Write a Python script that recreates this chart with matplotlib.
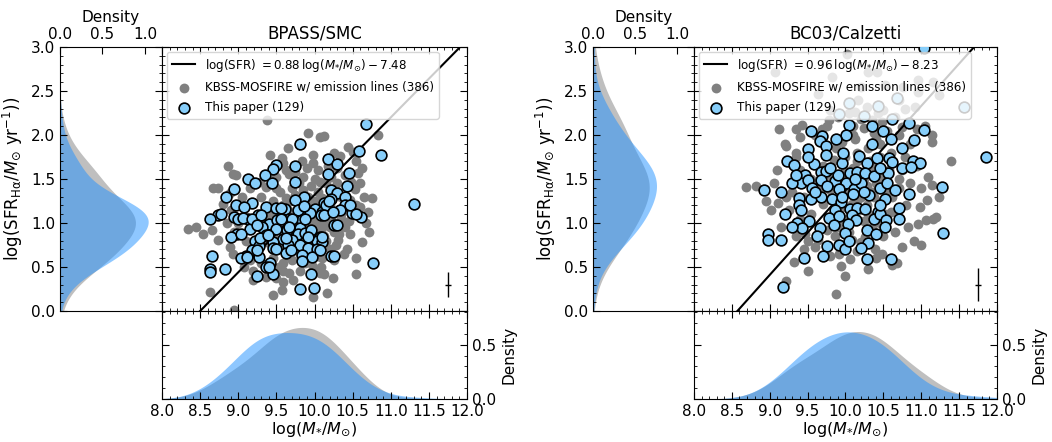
import numpy as np
import seaborn as sns
from matplotlib import pyplot as plt
from matplotlib.ticker import MultipleLocator

# (log M*, log SFR_Ha) pairs per SED model
# BPASS/SMC: this paper
bpass_ours = np.array([
    (10.67, 2.13), (9.81, 1.90), (10.58, 1.82), (10.87, 1.77), (10.18, 1.73), (10.29, 1.67),
    (9.50, 1.66), (9.74, 1.65), (9.46, 1.61), (10.18, 1.56), (10.45, 1.57), (9.35, 1.55),
    (9.13, 1.50), (9.22, 1.45), (9.44, 1.45), (9.75, 1.47), (8.95, 1.39), (10.42, 1.42),
    (10.21, 1.37), (8.84, 1.30), (10.29, 1.34), (10.40, 1.29), (9.86, 1.30), (9.74, 1.26),
    (10.13, 1.23), (11.30, 1.22), (9.18, 1.23), (8.97, 1.21), (10.40, 1.20), (9.37, 1.18),
    (9.07, 1.18), (9.61, 1.16), (9.49, 1.17), (9.78, 1.15), (10.01, 1.16), (10.10, 1.13),
    (10.33, 1.15), (9.94, 1.11), (10.08, 1.09), (10.49, 1.11), (8.74, 1.09), (8.63, 1.04),
    (9.26, 1.09), (8.94, 1.07), (9.00, 1.05), (9.13, 1.04), (10.61, 1.07), (9.40, 0.99),
    (9.51, 1.03), (9.66, 1.05), (9.84, 1.03), (10.25, 0.98), (9.16, 0.93), (9.31, 0.96),
    (9.50, 0.93), (9.64, 0.92), (9.81, 0.94), (9.36, 0.86), (8.98, 0.87), (8.90, 0.84),
    (9.78, 0.87), (9.88, 0.89), (9.58, 0.82), (9.70, 0.81), (10.07, 0.84), (9.22, 0.80),
    (9.46, 0.78), (10.03, 0.79), (10.10, 0.78), (9.81, 0.75), (9.91, 0.72), (9.65, 0.75),
    (9.27, 0.74), (9.45, 0.72), (9.18, 0.69), (10.03, 0.70), (9.62, 0.66), (9.10, 0.62),
    (9.04, 0.60), (9.27, 0.61), (9.84, 0.64), (9.97, 0.61), (10.21, 0.63), (8.65, 0.62),
    (9.84, 0.57), (10.77, 0.55), (9.42, 0.55), (8.63, 0.48), (8.63, 0.44), (8.83, 0.48),
    (9.37, 0.50), (9.25, 0.40), (9.46, 0.42), (9.96, 0.42), (9.81, 0.25), (9.99, 0.26),
    (10.22, 1.27), (9.56, 1.17), (9.86, 1.19), (10.15, 1.20), (10.19, 1.25), (10.47, 1.20),
    (8.78, 1.10), (9.06, 1.06), (9.18, 1.05), (9.30, 1.09), (9.56, 1.05), (9.70, 1.05),
    (9.88, 1.04), (10.13, 1.09), (10.24, 1.12), (10.54, 1.10), (10.30, 0.98), (9.24, 0.98),
    (9.67, 0.95), (9.95, 0.92), (9.03, 0.87), (9.29, 0.83), (9.39, 0.86), (9.63, 0.83),
    (9.91, 0.84), (10.10, 0.84), (9.24, 0.69), (9.50, 0.71), (9.69, 0.69), (10.07, 0.69),
    (10.25, 0.63), (9.11, 0.61), (9.40, 0.50),
])

# BPASS/SMC: KBSS-MOSFIRE parent sample
bpass_kbss = np.array([
    (9.38, 2.17), (9.91, 2.02), (10.07, 1.98), (10.13, 1.99), (10.83, 2.00), (9.41, 1.77),
    (9.57, 1.74), (9.58, 1.68), (9.98, 1.77), (9.98, 1.68), (9.83, 1.71), (10.44, 1.86),
    (10.33, 1.76), (10.50, 1.81), (8.87, 1.65), (8.93, 1.56), (8.97, 1.54), (10.57, 1.57),
    (9.67, 1.56), (9.72, 1.60), (9.37, 1.41), (9.28, 1.47), (8.67, 1.40), (8.73, 1.40),
    (8.89, 1.34), (10.48, 1.47), (10.53, 1.39), (10.75, 1.28), (10.07, 1.47), (10.22, 1.52),
    (9.85, 1.52), (10.68, 1.00), (8.34, 0.93), (8.45, 0.96), (8.54, 0.88), (8.65, 0.92),
    (8.73, 0.81), (10.40, 0.96), (10.46, 0.88), (10.31, 0.81), (10.42, 0.71), (10.55, 0.60),
    (10.20, 0.71), (10.26, 0.58), (8.89, 0.73), (8.93, 0.65), (9.46, 0.71), (9.54, 0.50),
    (9.59, 0.46), (9.19, 0.46), (9.37, 0.39), (9.19, 0.35), (9.59, 0.33), (9.67, 0.43),
    (9.81, 0.46), (9.87, 0.54), (9.98, 0.50), (10.09, 0.50), (10.07, 0.43), (10.54, 0.42),
    (10.24, 0.37), (8.63, 0.22), (9.46, 0.18), (9.57, 0.24), (9.98, 0.16), (10.16, 0.20),
    (8.95, 0.01), (10.46, 1.26), (10.59, 1.18),
    (9.30, 1.30), (9.45, 1.25), (9.55, 1.35), (9.62, 1.28), (9.70, 1.40), (9.85, 1.38),
    (9.95, 1.42), (10.05, 1.35), (10.15, 1.45), (10.25, 1.40), (10.35, 1.30), (9.40, 1.10),
    (9.52, 1.12), (9.65, 1.15), (9.78, 1.08), (9.90, 1.20), (10.00, 1.25), (10.12, 1.15),
    (10.22, 1.05), (10.35, 1.10), (10.45, 1.02), (9.20, 0.95), (9.35, 0.90), (9.48, 0.98),
    (9.60, 0.88), (9.72, 0.98), (9.85, 0.95), (9.97, 1.00), (10.08, 0.92), (10.20, 0.95),
    (10.32, 0.88), (9.10, 0.80), (9.25, 0.75), (9.38, 0.78), (9.52, 0.70), (9.65, 0.74),
    (9.78, 0.68), (9.90, 0.78), (10.02, 0.72), (10.15, 0.80), (10.28, 0.75), (9.15, 0.58),
    (9.30, 0.55), (9.45, 0.60), (9.58, 0.55), (9.70, 0.58), (9.82, 0.62), (9.95, 0.55),
    (10.10, 0.60), (9.00, 1.00), (8.90, 1.15), (8.80, 1.22), (9.05, 1.30), (9.15, 1.40),
    (9.35, 1.55), (9.50, 1.52), (9.62, 1.60), (9.75, 1.58), (9.90, 1.62), (10.05, 1.60),
    (10.18, 1.65), (10.30, 1.62), (10.40, 1.55), (10.60, 1.45), (10.65, 1.30), (10.55, 1.20),
    (10.70, 1.12), (8.95, 0.90), (8.85, 1.00), (9.65, 1.85), (9.80, 1.90), (10.25, 1.80),
    (10.55, 1.70), (10.62, 1.62), (10.72, 0.90), (10.38, 0.65), (10.62, 0.78), (9.08, 0.50),
    (9.50, 0.38), (9.72, 0.35), (10.12, 0.42),
    (9.55, 1.00), (9.62, 1.05), (9.70, 0.95), (9.75, 1.12), (9.82, 1.02), (9.88, 1.10),
    (9.92, 0.98), (10.00, 1.08), (10.05, 1.00), (10.10, 1.05), (10.15, 0.98), (10.18, 1.10),
    (9.58, 1.20), (9.68, 1.25), (9.80, 1.22), (9.92, 1.30), (10.02, 1.15), (10.10, 1.28),
    (10.20, 1.20), (9.45, 0.85), (9.58, 0.92), (9.72, 0.85), (9.85, 0.82), (9.98, 0.88),
    (10.12, 0.85), (10.25, 0.90), (9.50, 1.40), (9.80, 1.45), (10.00, 1.50), (10.30, 1.45),
    (9.40, 0.95), (9.30, 1.05), (9.60, 0.78), (9.95, 0.68), (10.35, 1.05), (10.40, 1.20),
    (9.75, 1.32), (9.88, 0.72), (10.05, 0.62), (9.65, 0.62),
])

# BC03/Calzetti: this paper
bc03_ours = np.array([
    (11.03, 2.99), (11.57, 2.32), (10.68, 2.42), (10.43, 2.33), (10.05, 2.36), (9.91, 2.24),
    (10.24, 2.22), (10.61, 2.18), (10.84, 2.14), (10.05, 2.11), (11.03, 2.06), (10.49, 2.05),
    (10.01, 2.00), (9.69, 1.99), (9.87, 1.95), (9.66, 1.93), (10.91, 1.94), (9.74, 1.87),
    (9.51, 1.84), (9.74, 1.77), (10.18, 1.76), (10.41, 1.74), (10.57, 1.74), (11.85, 1.75),
    (9.23, 1.71), (9.58, 1.67), (9.96, 1.68), (10.29, 1.68), (10.61, 1.69), (10.89, 1.71),
    (10.98, 1.68), (9.32, 1.66), (10.75, 1.63), (10.86, 1.64), (9.68, 1.58), (9.74, 1.59),
    (10.06, 1.57), (10.15, 1.58), (10.26, 1.57), (10.56, 1.57), (10.38, 1.53), (9.46, 1.54),
    (9.41, 1.45), (9.29, 1.45), (9.50, 1.49), (9.68, 1.49), (9.86, 1.48), (10.01, 1.45),
    (8.93, 1.38), (9.56, 1.40), (9.92, 1.39), (10.11, 1.39), (10.45, 1.40), (11.27, 1.41),
    (9.39, 1.28), (9.55, 1.27), (9.68, 1.30), (9.82, 1.27), (9.94, 1.24), (10.10, 1.33),
    (10.31, 1.32), (10.52, 1.27), (10.84, 1.33), (9.39, 1.21), (9.41, 1.15), (9.86, 1.15),
    (10.06, 1.16), (10.15, 1.17), (10.26, 1.16), (10.43, 1.13), (10.70, 1.17), (9.78, 1.06),
    (9.91, 1.08), (10.08, 1.09), (10.14, 1.03), (10.37, 1.05), (10.46, 1.10), (10.54, 1.03),
    (9.36, 1.00), (9.52, 1.02), (9.67, 0.94), (9.43, 0.94), (9.30, 0.96), (10.03, 0.99),
    (10.52, 0.95), (10.28, 0.92), (8.98, 0.88), (8.98, 0.81), (9.15, 0.81), (9.99, 0.89),
    (11.29, 0.89), (9.76, 0.74), (9.92, 0.75), (10.30, 0.77), (10.28, 0.59), (10.60, 0.59),
    (9.17, 0.27),
    (9.60, 1.35), (9.75, 1.42), (9.90, 1.55), (10.20, 1.45), (10.35, 2.10), (10.00, 0.70),
    (9.70, 0.62), (9.55, 2.05), (10.20, 0.72), (9.85, 0.98), (10.40, 0.88), (9.62, 0.85),
    (9.45, 0.60), (10.12, 1.50), (10.55, 1.45), (9.80, 1.62), (10.45, 1.62), (9.35, 1.55),
    (10.65, 1.38), (9.97, 1.80), (10.35, 1.90), (10.75, 1.85), (10.60, 1.95), (9.50, 1.75),
    (9.20, 1.10), (10.05, 0.80), (10.70, 1.05), (9.15, 1.35), (10.25, 1.35), (9.95, 1.30),
    (10.45, 1.20),
])

# BC03/Calzetti: KBSS-MOSFIRE parent sample
bc03_kbss = np.array([
    (10.02, 2.92), (9.07, 2.72), (10.30, 2.72), (10.41, 2.72), (11.16, 2.60), (11.23, 2.45),
    (10.52, 2.57), (10.76, 2.55), (10.96, 2.49), (10.70, 2.40), (10.17, 2.40), (10.28, 2.32),
    (10.79, 2.30), (10.92, 2.32), (9.80, 2.28), (10.13, 2.26), (10.43, 2.25), (10.21, 2.55),
    (9.82, 2.66), (9.64, 2.47), (10.96, 2.62), (9.12, 2.07), (9.34, 2.07), (9.43, 2.11),
    (9.40, 1.98), (9.69, 2.07), (9.78, 2.17), (10.35, 2.17), (10.48, 2.15), (10.74, 2.09),
    (11.14, 2.00), (11.14, 1.92), (10.94, 2.07), (9.21, 1.88), (9.34, 1.75), (11.39, 1.71),
    (8.68, 1.41), (8.82, 1.42), (9.01, 1.15), (9.11, 1.23), (9.21, 1.30), (11.09, 1.52),
    (11.14, 1.43), (11.23, 1.30), (11.07, 1.26), (10.98, 1.18), (11.06, 1.03), (11.16, 1.05),
    (11.20, 1.07), (10.96, 0.99), (10.83, 0.96), (11.00, 0.75), (9.60, 0.73), (9.91, 0.65),
    (10.06, 0.59), (10.48, 0.65), (10.61, 0.52), (10.68, 0.54), (9.94, 0.51), (9.32, 0.56),
    (9.21, 0.34), (9.88, 0.19), (10.08, 0.81), (10.26, 0.84), (10.39, 0.71), (10.74, 0.73),
    (9.47, 0.88), (9.64, 0.81), (9.86, 0.85),
    (9.40, 1.60), (9.55, 1.50), (9.70, 1.65), (9.85, 1.72), (10.00, 1.60), (10.15, 1.70),
    (10.30, 1.62), (10.45, 1.75), (10.60, 1.80), (10.75, 1.60), (9.30, 1.35), (9.45, 1.30),
    (9.65, 1.45), (9.80, 1.38), (9.95, 1.48), (10.10, 1.42), (10.25, 1.50), (10.40, 1.45),
    (10.55, 1.35), (10.70, 1.50), (10.85, 1.45), (9.25, 1.15), (9.40, 1.05), (9.55, 1.10),
    (9.70, 1.22), (9.85, 1.12), (10.00, 1.05), (10.15, 1.25), (10.30, 1.10), (10.45, 1.00),
    (10.60, 1.12), (10.80, 1.20), (9.35, 0.85), (9.50, 0.80), (9.75, 0.92), (9.90, 0.95),
    (10.05, 0.90), (10.20, 0.78), (10.35, 0.95), (10.50, 0.85), (10.65, 0.90), (9.60, 2.00),
    (9.75, 2.10), (9.95, 1.92), (10.10, 2.00), (10.25, 2.08), (10.40, 1.95), (10.55, 2.05),
    (10.70, 2.00), (10.85, 1.90), (9.90, 2.20), (10.05, 2.25), (10.20, 2.18), (10.50, 2.28),
    (10.65, 2.20), (9.20, 1.90), (9.35, 1.80), (9.10, 1.60), (9.05, 1.45), (8.95, 1.25),
    (9.15, 0.95), (9.45, 0.70), (9.80, 0.62), (10.15, 0.68), (10.40, 0.60), (10.90, 0.80),
    (11.00, 1.40), (10.95, 1.65), (11.05, 2.10), (9.50, 0.45), (10.00, 0.40), (10.30, 0.48),
    (9.90, 1.40), (9.98, 1.35), (10.05, 1.45), (10.12, 1.38), (10.20, 1.30), (10.28, 1.42),
    (10.35, 1.35), (10.42, 1.55), (10.50, 1.48), (10.58, 1.60), (10.02, 1.55), (10.10, 1.62),
    (10.22, 1.58), (10.32, 1.70), (10.40, 1.65), (9.85, 1.25), (9.95, 1.18), (10.08, 1.22),
    (10.18, 1.15), (10.28, 1.20), (10.38, 1.30), (10.48, 1.25), (10.62, 1.30), (10.00, 1.75),
    (10.15, 1.80), (10.30, 1.85), (10.45, 1.90), (9.80, 1.55), (9.72, 1.40), (9.88, 1.85),
    (10.12, 1.95), (10.38, 2.02), (10.60, 1.70), (10.70, 1.40), (10.25, 1.02), (10.52, 1.10),
    (9.92, 1.05), (10.78, 1.75), (10.10, 2.10), (10.50, 1.55),
])

titles = ['BPASS/SMC', 'BC03/Calzetti']
slopes = [0.88, 0.96]
intercepts = [-7.48, -8.23]
n_kbss, n_ours = 386, 129
err_point = (11.75, 0.30)
err_x = [0.04, 0.04]
err_y = [0.14, 0.19]

plt.rcParams['font.family'] = ['DejaVu Sans']
plt.rcParams['mathtext.fontset'] = 'dejavusans'
plt.rcParams['font.size'] = 11

fig = plt.figure(figsize=(10.52, 4.42), dpi=100)

# left edge of each panel group, in figure fraction
lefts = [0.057, 0.5637]
marg_w = [0.097, 0.096]
main_w = [0.290, 0.288]
bot_y, bot_h = 0.0973, 0.1991
top_y, top_h = 0.2964, 0.5973
bw = 1.35


def style_ticks(ax, **kw):
    ax.tick_params(which='both', direction='in', **kw)
    ax.tick_params(which='major', length=5, width=0.8)
    ax.tick_params(which='minor', length=2.5, width=0.6)


samples = [(bpass_ours, bpass_kbss), (bc03_ours, bc03_kbss)]
for i, (ours, kbss) in enumerate(samples):
    x0 = lefts[i]
    ax_l = fig.add_axes([x0, top_y, marg_w[i], top_h])
    ax_m = fig.add_axes([x0 + marg_w[i], top_y, main_w[i], top_h], sharey=ax_l)
    ax_b = fig.add_axes([x0 + marg_w[i], bot_y, main_w[i], bot_h], sharex=ax_m)

    parent = np.concatenate([kbss, ours])

    # main scatter
    mgrid = np.linspace(8, 12, 100)
    h_line, = ax_m.plot(mgrid, slopes[i] * mgrid + intercepts[i], color='k', lw=1.5, zorder=2,
                        label=r'log(SFR) $=%.2f\,\log(M_{*}/M_{\odot})-%.2f$'
                              % (slopes[i], -intercepts[i]))
    h_kbss = ax_m.scatter(kbss[:, 0], kbss[:, 1], s=50, color='grey', lw=0, zorder=1,
                          label=f'KBSS-MOSFIRE w/ emission lines ({n_kbss})')
    h_ours = ax_m.scatter(ours[:, 0], ours[:, 1], s=60, color='lightskyblue', edgecolor='k',
                          lw=1.2, zorder=3, label=f'This paper ({n_ours})')
    ax_m.errorbar(err_point[0], err_point[1], xerr=err_x[i], yerr=err_y[i], color='k', lw=1,
                  capsize=0, zorder=4)
    ax_m.set_xlim(8, 12)
    ax_m.set_ylim(0, 3)
    ax_m.set_title(titles[i], fontsize=12)
    ax_m.legend(handles=[h_line, h_kbss, h_ours], loc='upper left', fontsize=8.6,
                framealpha=0.8, borderaxespad=0.4, handlelength=2.0, labelspacing=0.6)
    ax_m.xaxis.set_minor_locator(MultipleLocator(0.1))
    ax_m.yaxis.set_minor_locator(MultipleLocator(0.1))
    style_ticks(ax_m, top=True, right=True, bottom=True, left=True,
                labelbottom=False, labelleft=False)

    # SFR marginal (left)
    sns.kdeplot(y=parent[:, 1], ax=ax_l, fill=True, color='grey', alpha=0.5, linewidth=0,
                bw_adjust=bw)
    sns.kdeplot(y=ours[:, 1], ax=ax_l, fill=True, color='dodgerblue', alpha=0.5, linewidth=0,
                bw_adjust=bw)
    ax_l.set_xlim(0, 1.2)
    ax_l.set_ylim(0, 3)
    ax_l.xaxis.set_major_locator(MultipleLocator(0.5))
    ax_l.xaxis.set_minor_locator(MultipleLocator(0.1))
    ax_l.yaxis.set_major_locator(MultipleLocator(0.5))
    ax_l.xaxis.set_label_position('top')
    ax_l.set_xlabel('Density', fontsize=11)
    ax_l.set_ylabel(r'log(SFR$_{\rm H\alpha}/M_{\odot}$ yr$^{-1}$))', fontsize=12)
    style_ticks(ax_l, top=True, bottom=False, left=True, right=True,
                labeltop=True, labelbottom=False, labelleft=True)
    ax_l.tick_params(axis='x', which='minor', top=False)

    # mass marginal (bottom)
    sns.kdeplot(x=parent[:, 0], ax=ax_b, fill=True, color='grey', alpha=0.5, linewidth=0,
                bw_adjust=bw)
    sns.kdeplot(x=ours[:, 0], ax=ax_b, fill=True, color='dodgerblue', alpha=0.5, linewidth=0,
                bw_adjust=bw)
    ax_b.set_xlim(8, 12)
    ax_b.set_ylim(0, 0.81)
    ax_b.xaxis.set_major_locator(MultipleLocator(0.5))
    ax_b.xaxis.set_minor_locator(MultipleLocator(0.1))
    ax_b.yaxis.set_major_locator(MultipleLocator(0.5))
    ax_b.yaxis.set_minor_locator(MultipleLocator(0.1))
    ax_b.yaxis.set_label_position('right')
    ax_b.set_ylabel('Density', fontsize=11)
    ax_b.set_xlabel(r'$\log(M_{*}/M_{\odot})$', fontsize=11.5, labelpad=1)
    style_ticks(ax_b, left=True, right=True, top=True, bottom=True,
                labelleft=False, labelright=True)

fig.savefig('out.png', dpi=100)
